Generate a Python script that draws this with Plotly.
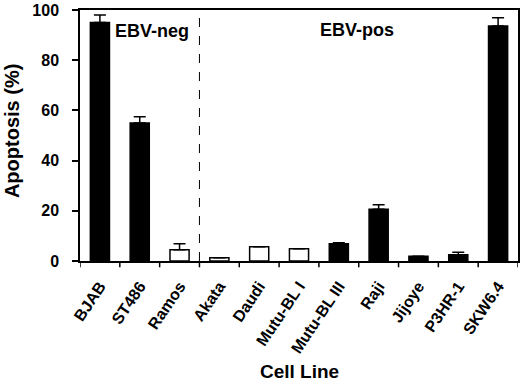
import plotly.graph_objects as go

cell_lines = ["BJAB", "ST486", "Ramos", "Akata", "Daudi", "Mutu-BL I",
              "Mutu-BL III", "Raji", "Jijoye", "P3HR-1", "SKW6.4"]
apoptosis = [95, 55, 4.5, 1.3, 5.7, 4.9, 6.9, 20.6, 1.9, 2.5, 93.6]
error_up = [3, 2.5, 2.4, 0, 0, 0, 0.4, 1.8, 0, 1.0, 3.3]
sensitive = [True, True, False, False, False, False, True, True, True, True, True]
y_ticks = [0, 20, 40, 60, 80, 100]

fill = ["black" if s else "white" for s in sensitive]
FONT = "Liberation Sans, Arial, sans-serif"

fig = go.Figure()
fig.add_trace(go.Bar(
    x=cell_lines, y=apoptosis, width=0.48,
    marker=dict(color=fill, line=dict(color="black", width=1.5)),
    error_y=dict(type="data", symmetric=False, array=error_up,
                 arrayminus=[0] * len(error_up), color="black",
                 thickness=1.5, width=6),
    showlegend=False,
))

fig.add_shape(type="line", xref="x", yref="paper", x0=2.5, x1=2.5, y0=0, y1=1,
              line=dict(color="black", width=1, dash="dash"))

fig.add_annotation(x=1.32, y=91.5, xref="x", yref="y", text="<b>EBV-neg</b>",
                   showarrow=False, font=dict(family=FONT, size=18, color="black"),
                   xanchor="center", yanchor="middle")
fig.add_annotation(x=6.46, y=92, xref="x", yref="y", text="<b>EBV-pos</b>",
                   showarrow=False, font=dict(family=FONT, size=18, color="black"),
                   xanchor="center", yanchor="middle")

# axis titles
fig.add_annotation(x=0.5, y=-0.442, xref="paper", yref="paper", text="<b>Cell Line</b>",
                   showarrow=False, font=dict(family=FONT, size=19, color="black"),
                   xanchor="center", yanchor="middle")
fig.add_annotation(x=-0.155, y=0.518, xref="paper", yref="paper", text="<b>Apoptosis (%)</b>",
                   showarrow=False, textangle=-90, font=dict(family=FONT, size=20, color="black"),
                   xanchor="center", yanchor="middle")

fig.update_layout(
    width=520, height=385,
    margin=dict(l=80, r=2, t=10, b=124, autoexpand=False),
    plot_bgcolor="white", paper_bgcolor="white",
    font=dict(family=FONT, color="black"),
    bargap=0.52,
)
fig.update_xaxes(
    range=[-0.5, 10.5], showline=True, linecolor="black", linewidth=1.5,
    mirror=True, ticks="", tickangle=-56, automargin=False, ticklabelstandoff=8,
    tickfont=dict(family=FONT, size=16, color="black"),
    tickprefix="<b>", ticksuffix="</b>",
    showgrid=False,
)
fig.update_yaxes(
    range=[0, 100], showline=True, linecolor="black", linewidth=1.5,
    mirror=True, ticks="outside", ticklen=6, tickwidth=1.5, tickcolor="black",
    tickvals=y_ticks, ticktext=[f"<b>{v}</b>" for v in y_ticks], automargin=False,
    ticklabelstandoff=10,
    tickfont=dict(family=FONT, size=16, color="black"),
    showgrid=False, zeroline=False,
)

for i in range(len(cell_lines) + 1):
    fig.add_shape(type="line", xref="x", yref="paper", x0=i - 0.5, x1=i - 0.5,
                  y0=0, y1=-0.025, line=dict(color="black", width=1.5))

fig.write_html("out.html", config={"displayModeBar": False},
               post_script="document.body.style.margin='0';document.body.style.overflow='hidden';")
